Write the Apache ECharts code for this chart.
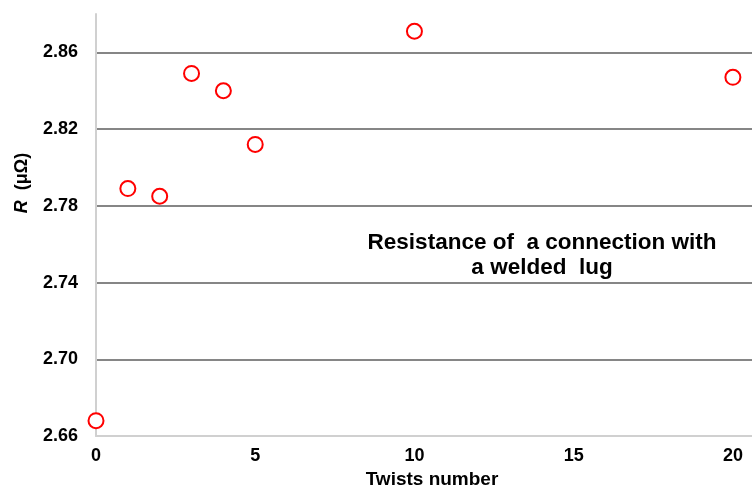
<!DOCTYPE html>
<html>
<head>
<meta charset="utf-8">
<script src="https://cdn.jsdelivr.net/npm/echarts@6/dist/echarts.min.js"></script>
<style>html,body{margin:0;padding:0;background:#fff}#c{width:752px;height:486px}</style>
</head>
<body>
<div id="c"></div>
<script>
const twists = [0, 1, 2, 3, 4, 5, 10, 20];
const resistance = [2.668, 2.789, 2.785, 2.849, 2.840, 2.812, 2.871, 2.847];
const yTicks = [2.66, 2.70, 2.74, 2.78, 2.82, 2.86];
const xTicks = [0, 5, 10, 15, 20];
const annotationLines = ['Resistance of  a connection with', 'a welded  lug'];
const xName = 'Twists number';

const FONT = '"Liberation Sans", Arial, sans-serif';
const chart = echarts.init(document.getElementById('c'), null, {renderer: 'canvas'});
chart.setOption({
  animation: false,
  backgroundColor: '#fff',
  grid: {left: 96, right: 0, top: 14, bottom: 50, containLabel: false, outerBoundsMode: 'none'},
  xAxis: {
    type: 'value', min: 0, max: 20.6, interval: 5,
    name: xName, nameLocation: 'middle', nameGap: 32,
    nameTextStyle: {fontFamily: FONT, fontWeight: 'bold', fontSize: 19, color: '#000', padding: [0, 0, 0, 16]},
    axisLine: {show: true, lineStyle: {color: '#d0d0d0', width: 2}},
    axisTick: {show: false},
    splitLine: {show: false},
    axisLabel: {
      fontFamily: FONT, fontWeight: 'bold', fontSize: 18, color: '#000', margin: 11,
      formatter: v => xTicks.includes(v) ? String(v) : ''
    }
  },
  yAxis: {
    type: 'value', min: 2.66, max: 2.88, interval: 0.04,
    axisLine: {show: true, lineStyle: {color: '#d0d0d0', width: 2}},
    axisTick: {show: false},
    splitLine: {show: true, showMinLine: false, showMaxLine: false, lineStyle: {color: '#5e5e5e', width: 1.5}},
    axisLabel: {
      fontFamily: FONT, fontWeight: 'bold', fontSize: 18, color: '#000', margin: 18,
      formatter: v => {
        const t = yTicks.find(a => Math.abs(a - v) < 1e-6);
        return t !== undefined ? t.toFixed(2) : '';
      }
    }
  },
  series: [{
    type: 'scatter',
    data: twists.map((x, i) => [x, resistance[i]]),
    symbol: 'circle', symbolSize: 15,
    itemStyle: {color: '#fff', borderColor: '#ff0000', borderWidth: 2, opacity: 1},
    clip: false
  }],
  graphic: [
    {
      type: 'text', x: 22, y: 183, rotation: Math.PI / 2,
      style: {
        text: '{i|R}  (μΩ)', align: 'center', verticalAlign: 'middle',
        font: 'bold 18px ' + FONT, fill: '#000',
        rich: {i: {fontStyle: 'italic', fontWeight: 'bold', fontSize: 18, fontFamily: FONT}}
      }
    },
    {
      type: 'text', x: 542, y: 255,
      style: {
        text: annotationLines.join('\n'), align: 'center', verticalAlign: 'middle',
        font: 'bold 22.5px ' + FONT, fill: '#000', lineHeight: 25
      }
    }
  ]
});
</script>
</body>
</html>
